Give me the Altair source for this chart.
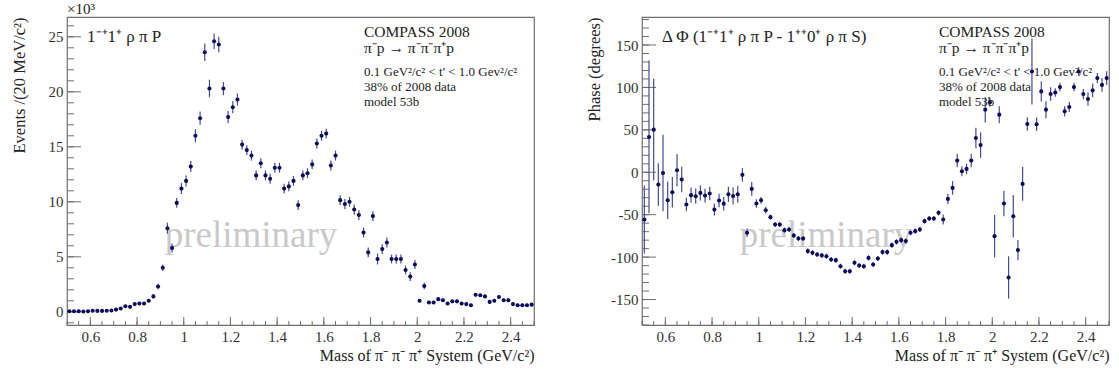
import altair as alt
import pandas as pd

# ---------------- data ----------------
mass = [0.51, 0.53, 0.55, 0.57, 0.59, 0.61, 0.63, 0.65, 0.67, 0.69,
        0.71, 0.73, 0.75, 0.77, 0.79, 0.81, 0.83, 0.85, 0.87, 0.89,
        0.91, 0.93, 0.95, 0.97, 0.99, 1.01, 1.03, 1.05, 1.07, 1.09,
        1.11, 1.13, 1.15, 1.17, 1.19, 1.21, 1.23, 1.25, 1.27, 1.29,
        1.31, 1.33, 1.35, 1.37, 1.39, 1.41, 1.43, 1.45, 1.47, 1.49,
        1.51, 1.53, 1.55, 1.57, 1.59, 1.61, 1.63, 1.65, 1.67, 1.69,
        1.71, 1.73, 1.75, 1.77, 1.79, 1.81, 1.83, 1.85, 1.87, 1.89,
        1.91, 1.93, 1.95, 1.97, 1.99, 2.01, 2.03, 2.05, 2.07, 2.09,
        2.11, 2.13, 2.15, 2.17, 2.19, 2.21, 2.23, 2.25, 2.27, 2.29,
        2.31, 2.33, 2.35, 2.37, 2.39, 2.41, 2.43, 2.45, 2.47, 2.49]

events = [0.05, 0.05, 0.05, 0.03, 0.05, 0.1, 0.08, 0.08, 0.1, 0.12,
          0.2, 0.3, 0.5, 0.45, 0.7, 0.75, 0.75, 1.0, 1.4, 2.3,
          4.0, 7.6, 5.8, 9.9, 11.2, 11.9, 13.2, 16.0, 17.6, 23.6,
          20.3, 24.6, 24.3, 20.3, 17.7, 18.6, 19.3, 15.2, 14.7, 14.2,
          12.4, 13.5, 12.4, 12.1, 13.1, 13.1, 11.2, 11.4, 11.9, 9.7,
          12.4, 12.6, 13.4, 15.3, 16.0, 16.2, 13.3, 14.2, 10.15, 9.8,
          10.0, 9.3, 8.8, 7.2, 5.4, 8.7, 4.8, 5.7, 6.3, 4.8,
          4.8, 4.8, 3.8, 3.2, 4.3, 1.0, 2.35, 0.85, 0.85, 1.15,
          1.05, 0.75, 0.95, 0.95, 0.75, 0.7, 0.6, 1.55, 1.5, 1.4,
          0.9, 1.0, 1.35, 1.05, 1.05, 0.7, 0.6, 0.6, 0.6, 0.65]

events_err = [0.05, 0.05, 0.05, 0.05, 0.05, 0.05, 0.05, 0.05, 0.05, 0.05,
              0.1, 0.1, 0.1, 0.1, 0.1, 0.1, 0.1, 0.15, 0.2, 0.25,
              0.3, 0.5, 0.4, 0.45, 0.5, 0.5, 0.5, 0.6, 0.6, 0.8,
              0.8, 0.7, 0.7, 0.6, 0.55, 0.55, 0.55, 0.45, 0.45, 0.45,
              0.45, 0.45, 0.45, 0.45, 0.45, 0.45, 0.45, 0.45, 0.45, 0.45,
              0.45, 0.45, 0.45, 0.45, 0.45, 0.45, 0.45, 0.45, 0.45, 0.45,
              0.45, 0.45, 0.45, 0.45, 0.45, 0.45, 0.5, 0.45, 0.45, 0.4,
              0.4, 0.4, 0.4, 0.4, 0.4, 0.15, 0.3, 0.15, 0.15, 0.15,
              0.15, 0.15, 0.15, 0.15, 0.15, 0.15, 0.15, 0.15, 0.15, 0.15,
              0.15, 0.15, 0.15, 0.15, 0.15, 0.15, 0.15, 0.15, 0.15, 0.15]

phase = [-55.7, 41.6, 50.2, -14.5, -0.8, -33.0, -23.5, 2.4, -8.6, -38.0,
         -27.0, -28.2, -24.3, -27.5, -25.0, -44.0, -33.3, -37.0, -26.0, -28.0,
         -26.0, -3.0, -71.3, -19.6, -36.8, -33.0, -44.7, -52.9, -61.5, -61.5,
         -68.2, -67.5, -74.5, -78.0, -78.0, -92.9, -94.9, -96.9, -98.0, -98.9,
         -102.8, -103.6, -110.7, -116.6, -116.6, -106.7, -109.9, -110.7, -100.9, -108.7,
         -101.6, -94.1, -94.1, -85.9, -82.0, -80.0, -81.1, -71.3, -69.4, -67.4,
         -57.6, -54.5, -54.5, -47.8, -55.7, -31.4, -18.4, 13.8, 1.2, 4.0,
         13.8, 40.4, 32.0, 73.8, 82.5, -75.3, 67.9, -36.8, -124.0, -51.8,
         -91.7, -13.7, 56.9, 118.8, 56.5, 95.3, 73.8, 92.2, 94.0, 100.4,
         71.8, 77.0, 100.4, 118.8, 92.2, 86.3, 96.5, 111.0, 103.0, 111.0]

phase_err = [40, 90, 60, 25, 45, 22, 18, 19, 15, 8,
             9, 9, 9, 8, 8, 7, 8, 8, 9, 10,
             10, 8, 5, 8, 5, 4, 4, 3, 3, 3,
             3, 3, 3, 3, 3, 3, 3, 3, 3, 3,
             3, 3, 3, 3, 3, 3, 3, 3, 3, 3,
             3, 3, 3, 3, 3, 3, 3, 3, 3, 3,
             3, 3, 3, 3, 6, 6, 8, 8, 6, 6,
             8, 12, 15, 15, 5, 25, 10, 15, 25, 25,
             12, 20, 8, 39, 8, 12, 10, 8, 5, 5,
             6, 6, 5, 5, 6, 8, 8, 6, 8, 8]

# tick values
x_labels = [0.6, 0.8, 1.0, 1.2, 1.4, 1.6, 1.8, 2.0, 2.2, 2.4]
x_minor = [round(0.5 + 0.05 * k, 2) for k in range(41)]
y1_labels = [0, 5, 10, 15, 20, 25]
y1_minor = list(range(-1, 27))
y2_labels = [-150, -100, -50, 0, 50, 100, 150]
y2_minor = list(range(-180, 181, 10))

# texts
x_title = "Mass of \u03c0\u207b \u03c0\u207b \u03c0\u207a System (GeV/c\u00b2)"
y1_title = "Events /(20 MeV/c\u00b2)"
y2_title = "Phase (degrees)"
p1_label = "1\u207b\u207a1\u207a \u03c1 \u03c0 P"
p2_label = "\u0394 \u03a6 (1\u207b\u207a1\u207a \u03c1 \u03c0 P - 1\u207a\u207a0\u207a \u03c1 \u03c0 S)"
info_big = ["COMPASS 2008", "\u03c0\u207bp \u2192 \u03c0\u207b\u03c0\u207b\u03c0\u207ap"]
info_small = ["0.1 GeV\u00b2/c\u00b2 < t' < 1.0 Gev\u00b2/c\u00b2", "38% of 2008 data", "model 53b"]
watermark = "preliminary"
exponent = "\u00d710\u00b3"

# ---------------- styling ----------------
FONT = "Liberation Serif"
W, H = 467, 308
NAVY = "#0c0c5a"
ERRC = "#4a4a92"
FRAME = "#707070"
TXT = "#222222"

df1 = pd.DataFrame({"m": mass, "v": events, "e": events_err})
df1["lo"] = df1["v"] - df1["e"]
df1["hi"] = df1["v"] + df1["e"]
df2 = pd.DataFrame({"m": mass, "v": phase, "e": phase_err})
df2["lo"] = df2["v"] - df2["e"]
df2["hi"] = df2["v"] + df2["e"]


def text_layer(s, x, y, size, align="left", color=TXT):
    return alt.Chart(pd.DataFrame({"s": [s]})).mark_text(
        font=FONT, fontSize=size, align=align, baseline="alphabetic", color=color
    ).encode(text="s:N", x=alt.value(x), y=alt.value(y))


def panel(df, ydom, ylabels, yminor, ytitle, label, exp=None):
    xs = alt.Scale(domain=[0.5, 2.5], nice=False, zero=False)
    ys = alt.Scale(domain=ydom, nice=False, zero=False)
    xaxis = alt.Axis(values=x_labels, labelExpr="toString(datum.value)", ticks=False, tickSize=0,
                     domain=False, grid=False, labelFont=FONT, labelFontSize=15, labelColor="#333333",
                     labelPadding=4, title=x_title, titleFont=FONT, titleFontSize=16,
                     titleFontWeight="normal", titleColor=TXT, titleX=W, titleY=35,
                     titleAlign="right", titleBaseline="alphabetic")
    yaxis = alt.Axis(values=ylabels, labelExpr="toString(datum.value)", ticks=False, tickSize=0,
                     domain=False, grid=False, labelFont=FONT, labelFontSize=15, labelColor="#333333",
                     labelPadding=4, title=ytitle, titleFont=FONT, titleFontSize=16.5,
                     titleFontWeight="normal", titleColor=TXT, titleX=-43, titleY=0,
                     titleAngle=270, titleAlign="right", titleBaseline="alphabetic")

    def X(f):
        return alt.X(f, type="quantitative", scale=xs, axis=xaxis)

    def Y(f):
        return alt.Y(f, type="quantitative", scale=ys, axis=yaxis)

    wm = text_layer(watermark, 184, 230, 37, align="center", color="#c9c9c9")
    err = alt.Chart(df).mark_rule(color=ERRC, strokeWidth=1.2).encode(x=X("m"), y=Y("lo"), y2="hi")
    pts = alt.Chart(df).mark_circle(size=17, color=NAVY, opacity=1).encode(x=X("m"), y=Y("v"))
    xt_minor = alt.Chart(pd.DataFrame({"t": x_minor})).mark_rule(color=FRAME, strokeWidth=1).encode(
        x=X("t"), y=alt.value(H), y2=alt.value(H - 4))
    xt_major = alt.Chart(pd.DataFrame({"t": x_labels})).mark_rule(color=FRAME, strokeWidth=1).encode(
        x=X("t"), y=alt.value(H), y2=alt.value(H - 8))
    yt_minor = alt.Chart(pd.DataFrame({"t": yminor})).mark_rule(color=FRAME, strokeWidth=1).encode(
        y=Y("t"), x=alt.value(0), x2=alt.value(7))
    yt_major = alt.Chart(pd.DataFrame({"t": ylabels})).mark_rule(color=FRAME, strokeWidth=1).encode(
        y=Y("t"), x=alt.value(0), x2=alt.value(14))

    layers = [wm, xt_minor, xt_major, yt_minor, yt_major, err, pts,
              text_layer(label, 20, 25, 17),
              text_layer(info_big[0], 297, 20, 15.5),
              text_layer(info_big[1], 297, 36, 15.5),
              text_layer(info_small[0], 297, 58.5, 13),
              text_layer(info_small[1], 297, 73.5, 13),
              text_layer(info_small[2], 297, 89, 13)]
    if exp:
        layers.append(text_layer(exp, 0, -3, 15))
    return alt.layer(*layers).properties(width=W, height=H)


left = panel(df1, [-1.2, 26.8], y1_labels, y1_minor, y1_title, p1_label, exponent)
right = panel(df2, [-180, 183], y2_labels, y2_minor, y2_title, p2_label)

chart = alt.hconcat(left, right, spacing=108, bounds="flush").properties(
    padding={"left": 10, "top": 1, "right": 5, "bottom": 5},
    background="white",
).configure_view(stroke=FRAME, strokeWidth=1.2)

chart.save("out.html", embed_options={"renderer": "svg", "actions": False})
